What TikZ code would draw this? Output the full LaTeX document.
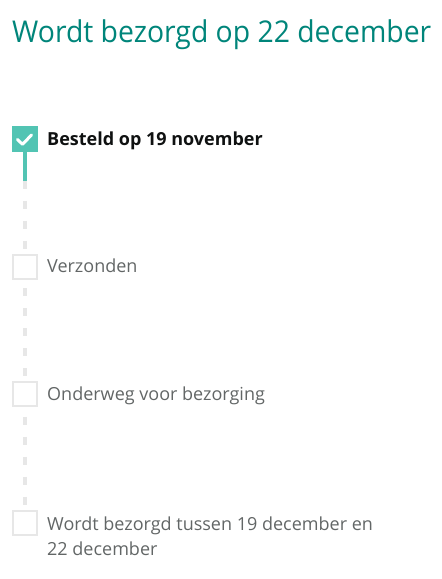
\documentclass[tikz,border=0pt]{standalone}
\usepackage{fontspec}
\setmainfont{Open Sans}
\definecolor{titlecol}{HTML}{00857A}
\definecolor{tealbox}{HTML}{52C4B3}
\definecolor{graybox}{HTML}{E7E7E7}
\definecolor{darktext}{HTML}{0F1111}
\definecolor{graytext}{HTML}{626666}
\tikzset{
  donebox/.style={rectangle, fill=tealbox, minimum size=26pt, inner sep=0pt, outer sep=0pt},
  todobox/.style={rectangle, draw=graybox, line width=2pt, fill=white, minimum size=24pt, inner sep=0pt, outer sep=0pt},
  donelabel/.style={anchor=base west, inner sep=0pt, text=darktext, font=\fontsize{18}{22}\selectfont\bfseries},
  todolabel/.style={anchor=base west, inner sep=0pt, text=graytext, font=\fontsize{18}{22}\selectfont},
  doneline/.style={draw=tealbox, line width=4pt},
  todoline/.style={draw=graybox, line width=4pt, dash pattern=on 8pt off 12pt},
}
\begin{document}
\begin{tikzpicture}[x=1pt, y=-1pt]
\useasboundingbox (0,0) rectangle (442,579);
\node[anchor=base west, inner sep=0pt, text=titlecol, font=\fontsize{30}{36}\selectfont] (title) at (12,42.3) {\scalebox{0.945}[1]{Wordt bezorgd op 22 december}};

\node[donebox] (b1) at (25,139) {};
\node[todobox] (b2) at (25,267) {};
\node[todobox] (b3) at (25,393.5) {};
\node[todobox] (b4) at (25,523) {};

\draw[white, line width=3pt, line cap=round, line join=round] (17.5,139.5) -- (22.5,144.3) -- (31.5,135);

\coordinate (t1) at (25,180.5);
\draw[doneline] (b1.south) -- (t1);
\draw[todoline] (t1) -- ([yshift=1pt]b2.north);
\draw[todoline, dash phase=12pt] ([yshift=-1pt]b2.south) -- ([yshift=1pt]b3.north);
\draw[todoline, dash phase=10pt] ([yshift=-1pt]b3.south) -- ([yshift=1pt]b4.north);

\node[donelabel] (l1) at (47,145) {Besteld op 19 november};
\node[todolabel] (l2) at (47,272.5) {Verzonden};
\node[todolabel] (l3) at (47,400) {Onderweg voor bezorging};
\node[todolabel] (l4) at (47,530) {Wordt bezorgd tussen 19 december en};
\node[todolabel] (l4b) at (47,555) {22 december};
\end{tikzpicture}
\end{document}
